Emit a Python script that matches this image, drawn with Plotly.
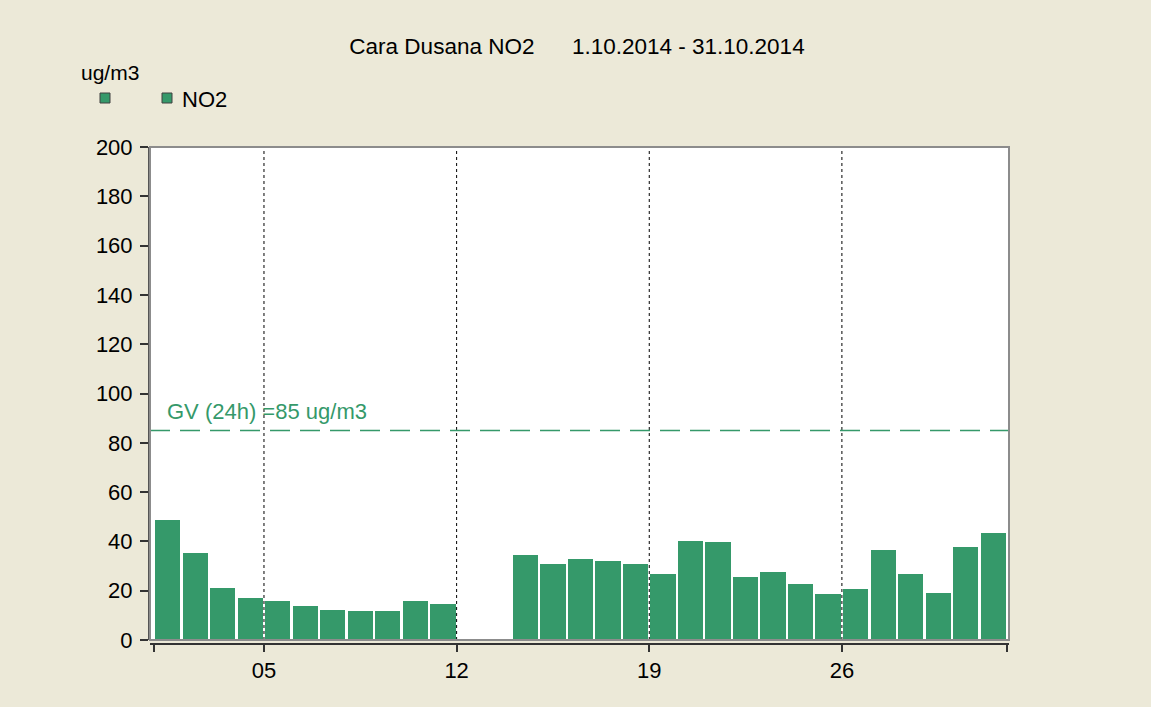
import plotly.graph_objects as go

# ---- data ----
days = list(range(1, 32))
no2 = [48.7, 35.3, 21.2, 17.2, 15.8, 13.7, 12.2, 11.6, 11.6, 15.8, 14.6,
       None, None,
       34.6, 31.0, 33.0, 32.0, 31.0, 26.9, 40.2, 39.6, 25.4, 27.5, 22.8,
       18.7, 20.7, 36.5, 26.9, 19.2, 37.6, 43.3]
tick_days = [5, 12, 19, 26]
tick_labels = ["05", "12", "19", "26"]
limit_value = 85
limit_label = "GV (24h) =85 ug/m3"
title_text = "Cara Dusana NO2\u00a0\u00a0\u00a0\u00a0\u00a0\u00a01.10.2014 - 31.10.2014"
unit_label = "ug/m3"
series_name = "NO2"

# ---- style / layout ----
W, H = 1151, 707
BG = "#ECE9D8"
GREEN = "#35996A"
FONT = "Liberation Sans, Arial, sans-serif"
L, R = 150, 1009          # plot area x pixels
T, B_AX, B_PLOT = 147, 644, 640

def px_x(p):
    return (p - L) / (R - L)

def px_y(p):
    return (B_AX - p) / (B_AX - T)

x_centers = [d - 0.5 for d in days]
day_w = 27.52
x0 = (L - 153.9) / day_w
x1 = (R - 153.9) / day_w

fig = go.Figure()
fig.add_trace(go.Bar(
    x=x_centers, y=no2, width=0.92, name=series_name,
    marker=dict(color=GREEN, line=dict(width=0)),
    showlegend=False, hoverinfo="x+y"
))

shapes = []
# vertical dotted grid lines
for d in tick_days:
    shapes.append(dict(type="line", xref="x", yref="y", x0=d - 1, x1=d - 1,
                       y0=0, y1=200, line=dict(color="black", width=1, dash="dot"),
                       layer="above"))
# limit line
shapes.append(dict(type="line", xref="paper", yref="y", x0=0, x1=1,
                   y0=limit_value, y1=limit_value,
                   line=dict(color=GREEN, width=1.5, dash="20px,10px"), layer="above"))
# plot border
shapes.append(dict(type="rect", xref="paper", yref="paper", x0=0, x1=1,
                   y0=px_y(B_PLOT), y1=1, line=dict(color="#8c8c8c", width=2),
                   layer="above"))
# legend squares
for lx in (100, 162):
    shapes.append(dict(type="rect", xref="paper", yref="paper",
                       x0=px_x(lx), x1=px_x(lx + 10), y0=px_y(103), y1=px_y(93),
                       fillcolor=GREEN, line=dict(color="#404040", width=1)))

annotations = [
    dict(text=unit_label, xref="paper", yref="paper", x=px_x(79), y=px_y(73),
         xanchor="left", yanchor="middle", showarrow=False,
         font=dict(family=FONT, size=21, color="black")),
    dict(text=series_name, xref="paper", yref="paper", x=px_x(180), y=px_y(99),
         xanchor="left", yanchor="middle", showarrow=False,
         font=dict(family=FONT, size=22, color="black")),
    dict(text=limit_label, xref="x", yref="y", x=(165 - 153.9) / day_w, y=92.5,
         xanchor="left", yanchor="middle", showarrow=False,
         font=dict(family=FONT, size=22, color=GREEN)),
]

fig.update_layout(
    width=W, height=H,
    paper_bgcolor=BG, plot_bgcolor="white",
    margin=dict(l=L, r=W - R, t=T, b=H - B_AX, pad=0),
    title=dict(text=title_text, x=577 / W, xref="container", xanchor="center",
               y=1 - 46 / H, yref="container", yanchor="middle",
               font=dict(family=FONT, size=22.5, color="black")),
    font=dict(family=FONT, size=22, color="black"),
    shapes=shapes, annotations=annotations,
    bargap=0, showlegend=False,
    xaxis=dict(range=[x0, x1], anchor="free", position=0,
               tickmode="array", tickvals=[0] + [d - 1 for d in tick_days] + [31],
               ticktext=[""] + tick_labels + [""],
               showgrid=False, zeroline=False,
               showline=True, linecolor="#333333", linewidth=1.5,
               ticks="outside", ticklen=7, tickcolor="#333333", tickwidth=1.5,
               tickfont=dict(family=FONT, size=22, color="black")),
    yaxis=dict(range=[0, 200], domain=[px_y(B_PLOT), 1],
               tickmode="linear", tick0=0, dtick=20,
               showgrid=False, zeroline=False,
               showline=True, linecolor="#555555", linewidth=2,
               ticks="outside", ticklen=8, tickcolor="#333333", tickwidth=1.5,
               ticklabelstandoff=3,
               tickfont=dict(family=FONT, size=22, color="black")),
)

fig.write_html("out.html", config={"displayModeBar": False},
               post_script="document.body.style.margin='0';document.body.style.background='#ECE9D8';")
